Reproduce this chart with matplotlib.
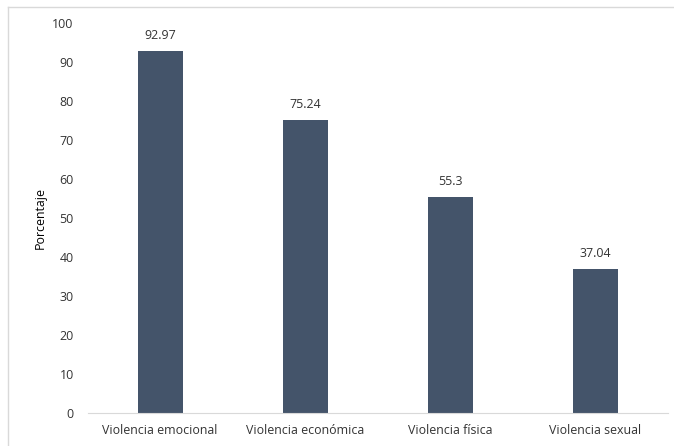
import matplotlib.pyplot as plt
from matplotlib.lines import Line2D

# data
categories = ["Violencia emocional", "Violencia económica", "Violencia física", "Violencia sexual"]
values = [92.97, 75.24, 55.3, 37.04]
labels = ["92.97", "75.24", "55.3", "37.04"]

plt.rcParams['font.family'] = ['Open Sans', 'DejaVu Sans']
text_color = "#333333"
fs = 8.9

fig = plt.figure(figsize=(6.74, 4.46), dpi=100)
ax = fig.add_axes([0.13, 0.074, 0.861, 0.874])

x = range(len(categories))
ax.bar(x, values, width=0.31, color="#44546A")
for xi, v, lab in zip(x, values, labels):
    ax.text(xi, v + 2.3, lab, ha="center", va="bottom", fontsize=fs, color=text_color)

ax.set_xlim(-0.5, len(categories) - 0.5)
ax.set_ylim(0, 100)
ax.set_yticks(range(0, 101, 10))
ax.set_xticks(list(x))
ax.set_xticklabels(categories, fontsize=fs, color=text_color)
ax.tick_params(axis="y", labelsize=fs, labelcolor=text_color, length=0, pad=10)
ax.tick_params(axis="x", length=0, pad=8)
ax.set_ylabel("Porcentaje", fontsize=fs, color="#000000", labelpad=4)

for side in ["top", "right", "left"]:
    ax.spines[side].set_visible(False)
ax.spines["bottom"].set_color("#D9D9D9")

# light chart-area border (left and top visible)
fig.add_artist(Line2D([0.012, 0.012], [0.0, 0.984], color="#D9D9D9", lw=1, transform=fig.transFigure))
fig.add_artist(Line2D([0.012, 1.0], [0.984, 0.984], color="#D9D9D9", lw=1, transform=fig.transFigure))

fig.savefig("out.png", dpi=100)
